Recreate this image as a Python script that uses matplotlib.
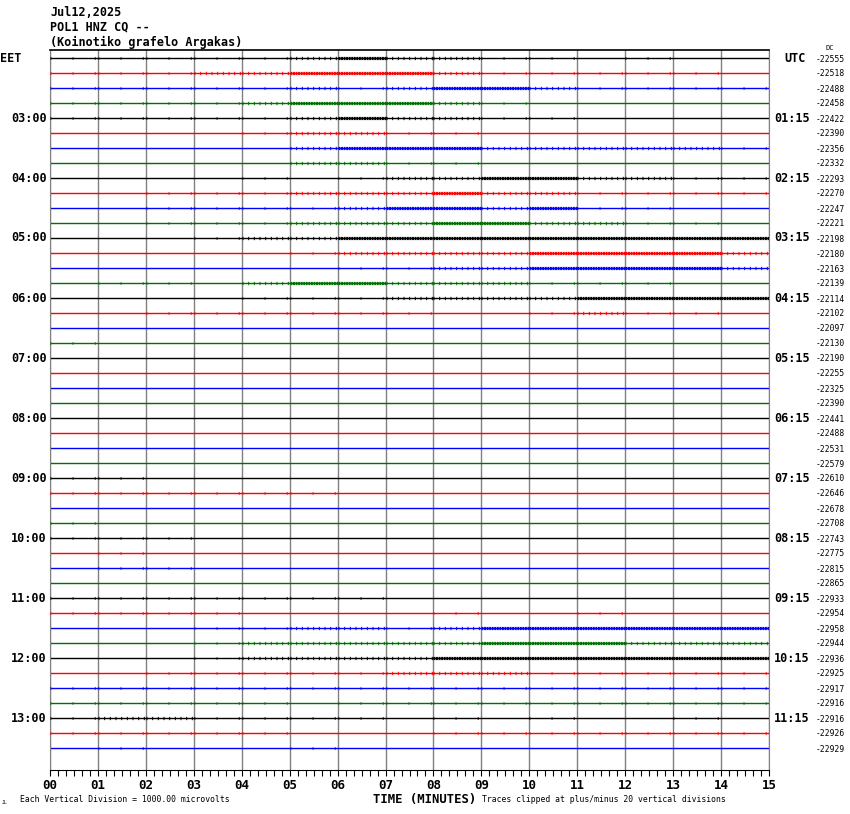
import matplotlib
matplotlib.use("Agg")
import matplotlib.pyplot as plt
import numpy as np

# Header / station info
date_text = "Jul12,2025"
station_text = "POL1 HNZ CQ --"
site_text = "(Koinotiko grafelo Argakas)"

# One trace every 15 minutes, 02:00 .. 13:30 EET
trace_colors = ["black", "red", "blue", "#007000"]
eet_labels = ["03:00", "04:00", "05:00", "06:00", "07:00", "08:00",
              "09:00", "10:00", "11:00", "12:00", "13:00"]
utc_labels = ["01:15", "02:15", "03:15", "04:15", "05:15", "06:15",
              "07:15", "08:15", "09:15", "10:15", "11:15"]
dc_values = [-22555, -22518, -22488, -22458, -22422, -22390, -22356, -22332,
             -22293, -22270, -22247, -22221, -22198, -22180, -22163, -22139,
             -22114, -22102, -22097, -22130, -22190, -22255, -22325, -22390,
             -22441, -22488, -22531, -22579, -22610, -22646, -22678, -22708,
             -22743, -22775, -22815, -22865, -22933, -22954, -22958, -22944,
             -22936, -22925, -22917, -22916, -22916, -22926, -22929]

# Noise activity per minute for each trace (0 quiet, 1 sparse, 2 busy, 3 dense)
activity = [
    [1, 1, 1, 1, 1, 2, 3, 2, 2, 1, 1, 0, 1, 0, 0],
    [1, 1, 1, 2, 2, 3, 3, 3, 2, 1, 1, 1, 1, 1, 0],
    [1, 1, 1, 1, 1, 2, 1, 2, 3, 3, 2, 1, 1, 1, 1],
    [1, 1, 1, 1, 2, 3, 3, 3, 2, 1, 0, 0, 0, 0, 0],
    [1, 1, 1, 1, 1, 2, 3, 2, 2, 1, 1, 0, 0, 0, 0],
    [0, 0, 0, 0, 1, 2, 2, 1, 1, 0, 0, 0, 0, 0, 0],
    [0, 0, 0, 0, 0, 2, 3, 3, 3, 2, 2, 2, 2, 2, 1],
    [0, 0, 0, 0, 0, 2, 2, 1, 1, 0, 0, 0, 0, 0, 0],
    [0, 0, 0, 0, 1, 0, 1, 2, 2, 3, 3, 2, 2, 1, 1],
    [0, 0, 1, 1, 1, 2, 2, 2, 3, 2, 2, 1, 1, 1, 1],
    [0, 0, 1, 1, 1, 1, 2, 3, 3, 2, 3, 1, 1, 0, 0],
    [0, 0, 1, 1, 1, 2, 2, 2, 3, 3, 2, 2, 1, 1, 0],
    [0, 0, 0, 1, 2, 2, 3, 3, 3, 3, 3, 3, 3, 3, 3],
    [0, 0, 0, 0, 0, 1, 2, 2, 2, 2, 3, 3, 3, 3, 2],
    [0, 0, 0, 0, 0, 0, 1, 1, 2, 2, 3, 3, 3, 3, 2],
    [0, 1, 1, 0, 2, 3, 3, 2, 2, 2, 1, 1, 1, 0, 0],
    [0, 0, 0, 0, 1, 1, 1, 2, 2, 2, 2, 3, 3, 3, 3],
    [0, 0, 1, 1, 1, 1, 1, 1, 0, 0, 1, 2, 1, 1, 0],
    [0, 0, 0, 0, 0, 0, 0, 0, 0, 0, 0, 0, 0, 0, 0],
    [1, 0, 0, 0, 0, 0, 0, 0, 0, 0, 0, 0, 0, 0, 0],
    [0, 0, 0, 0, 0, 0, 0, 0, 0, 0, 0, 0, 0, 0, 0],
    [0, 0, 0, 0, 0, 0, 0, 0, 0, 0, 0, 0, 0, 0, 0],
    [0, 0, 0, 0, 0, 0, 0, 0, 0, 0, 0, 0, 0, 0, 0],
    [0, 0, 0, 0, 0, 0, 0, 0, 0, 0, 0, 0, 0, 0, 0],
    [0, 0, 0, 0, 0, 0, 0, 0, 0, 0, 0, 0, 0, 0, 0],
    [0, 0, 0, 0, 0, 0, 0, 0, 0, 0, 0, 0, 0, 0, 0],
    [0, 0, 0, 0, 0, 0, 0, 0, 0, 0, 0, 0, 0, 0, 0],
    [0, 0, 0, 0, 0, 0, 0, 0, 0, 0, 0, 0, 0, 0, 0],
    [1, 1, 0, 0, 0, 0, 0, 0, 0, 0, 0, 0, 0, 0, 0],
    [1, 1, 1, 1, 1, 1, 0, 0, 0, 0, 0, 0, 0, 0, 0],
    [0, 0, 0, 0, 0, 0, 0, 0, 0, 0, 0, 0, 0, 0, 0],
    [1, 0, 0, 0, 0, 0, 0, 0, 0, 0, 0, 0, 0, 0, 0],
    [1, 1, 1, 0, 0, 0, 0, 0, 0, 0, 0, 0, 0, 0, 0],
    [0, 1, 0, 0, 0, 0, 0, 0, 0, 0, 0, 0, 0, 0, 0],
    [0, 1, 1, 0, 0, 0, 0, 0, 0, 0, 0, 0, 0, 0, 0],
    [0, 0, 0, 0, 0, 0, 0, 0, 0, 0, 0, 0, 0, 0, 0],
    [1, 1, 1, 1, 1, 1, 1, 0, 0, 0, 0, 0, 0, 0, 0],
    [1, 1, 1, 1, 0, 0, 0, 0, 1, 0, 0, 1, 0, 0, 0],
    [0, 0, 0, 1, 1, 2, 2, 1, 2, 3, 3, 3, 3, 3, 3],
    [0, 0, 0, 1, 2, 2, 2, 2, 2, 3, 3, 3, 2, 2, 2],
    [0, 0, 0, 1, 2, 2, 2, 2, 3, 3, 3, 3, 3, 3, 3],
    [0, 0, 1, 1, 1, 1, 1, 2, 2, 2, 1, 1, 1, 1, 1],
    [1, 1, 1, 1, 1, 1, 1, 1, 1, 1, 1, 1, 1, 1, 1],
    [1, 1, 1, 1, 1, 0, 1, 1, 1, 1, 1, 1, 1, 1, 1],
    [1, 2, 2, 1, 1, 1, 1, 0, 1, 0, 1, 0, 0, 1, 0],
    [1, 1, 1, 1, 1, 0, 0, 0, 1, 1, 1, 1, 1, 1, 1],
    [0, 1, 0, 0, 0, 1, 0, 0, 0, 0, 0, 0, 0, 0, 0],
]
minutes = list(range(16))

W, H = 850, 814
mono = "DejaVu Sans Mono"
# dash pattern (on, off) in units of linewidth
level_style = {1: (0, (0.25, 7.0)), 2: (0, (0.3, 1.4)), 3: (0, (0.6, 0.2))}
level_width = {1: 2.2, 2: 2.4, 3: 2.3}

fig = plt.figure(figsize=(W / 100, H / 100), dpi=100)
ax = fig.add_axes([50 / W, 44 / H, 719 / W, 720 / H])

n = len(dc_values)
ax.set_xlim(0, 15)
ax.set_ylim(n - 1 + 22 / 15, -8 / 15)

for x in minutes:
    ax.axvline(x, color="#808080", lw=1.0, zorder=1)

for i in range(n):
    c = trace_colors[i % 4]
    ax.plot([0, 15], [i, i], color=c, lw=1.0, zorder=2)
    for m, lev in enumerate(activity[i]):
        if lev > 0:
            ax.plot([m, m + 1], [i, i], color=c, lw=level_width[lev],
                    linestyle=level_style[lev], dash_capstyle="butt",
                    solid_capstyle="butt", zorder=3)

ax.set_xticks(minutes)
ax.set_xticklabels(["%02d" % m for m in minutes], fontfamily=mono,
                   fontweight="bold", fontsize=9)
ax.set_xticks(np.arange(0, 15.01, 1 / 6), minor=True)
ax.tick_params(axis="x", which="both", direction="out", length=4.5, width=0.8, pad=2)
ax.set_yticks([])
for side in ["left", "right"]:
    ax.spines[side].set_color("#808080")
ax.spines["top"].set_linewidth(1.2)


def px(x, y):
    return x / W, 1 - y / H


hdr = dict(fontfamily=mono, fontweight="bold", fontsize=8.5, va="center")
fig.text(*px(50, 12), date_text, **hdr)
fig.text(*px(50, 27), station_text, **hdr)
fig.text(*px(50, 42), site_text, **hdr)

lab = dict(fontfamily=mono, fontweight="bold", fontsize=8.5, va="center")
trace_y = lambda i: 58 + i * (690 / (n - 1))
fig.text(*px(0, trace_y(0)), "EET", ha="left", **lab)
fig.text(*px(784, trace_y(0)), "UTC", ha="left", **lab)
for k, (e, u) in enumerate(zip(eet_labels, utc_labels)):
    y = trace_y(4 * (k + 1))
    fig.text(*px(47, y), e, ha="right", **lab)
    fig.text(*px(774, y), u, ha="left", **lab)

fig.text(*px(826, 48), "DC", fontfamily=mono, fontsize=5.0, ha="left", va="center")
for i, v in enumerate(dc_values):
    fig.text(*px(816, trace_y(i) + 1), str(v), fontfamily=mono, fontsize=5.8,
             ha="left", va="center")

fig.text(*px(373, 799), "TIME (MINUTES)", fontfamily=mono, fontweight="bold",
         fontsize=8.8, va="center", ha="left")
fig.text(*px(20, 800), "Each Vertical Division = 1000.00 microvolts",
         fontfamily=mono, fontsize=5.9, va="center", ha="left")
fig.text(*px(482, 800), "Traces clipped at plus/minus 20 vertical divisions",
         fontfamily=mono, fontsize=5.9, va="center", ha="left")
fig.text(*px(2, 802), "JL", fontfamily=mono, fontsize=3.5, va="center", ha="left")

fig.savefig("out.png", dpi=100)
